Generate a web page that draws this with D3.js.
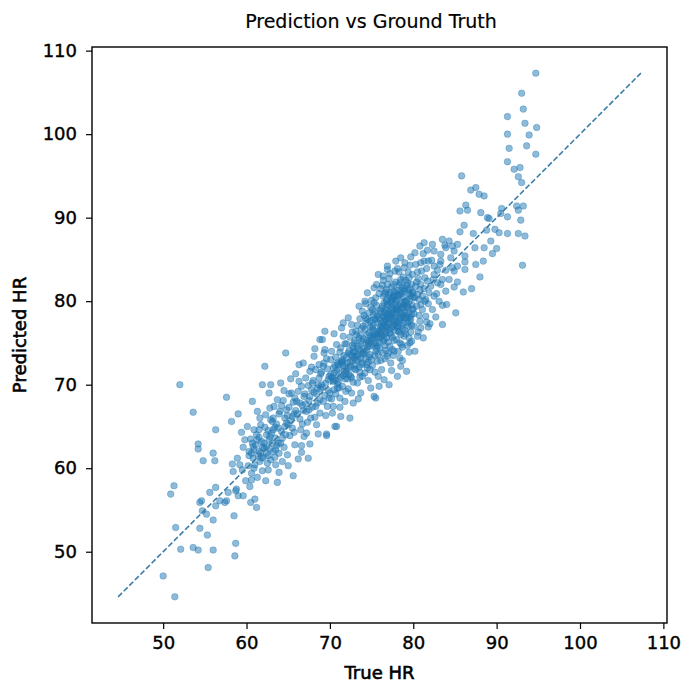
<!DOCTYPE html>
<html>
<head>
<meta charset="utf-8">
<script src="https://cdn.jsdelivr.net/npm/d3@7"></script>
<style>
  body { margin: 0; background: #fff; }
  text { font-family: "DejaVu Sans", sans-serif; fill: #000; }
</style>
</head>
<body>
<div id="chart"></div>
<script>
// points, [true HR, predicted HR]
var lowTail = [[54.2,62.9],[54.2,62.3],[56.0,61.8],[54.8,60.9],[56.2,60.9],[58.3,60.5],[51.3,57.9],[50.9,56.9],
  [56.3,57.7],[55.6,57.1],[54.6,56.1],[54.4,55.9],[56.8,56.1],[57.6,56.1],[57.8,57.1],[58.7,57.3],[59.0,56.7],
  [56.3,55.5],[57.4,55.9],[54.7,54.9],[55.2,54.5],[56.0,53.8],[58.5,54.3],[51.5,52.9],[54.4,52.8],[55.3,52.0],
  [52.1,50.3],[53.6,50.5],[54.2,50.2],[56.0,50.2],[58.7,51.0],[58.6,49.5],[55.4,48.1],[50.0,47.1],[51.4,44.6],
  [52.0,70.0],[53.6,66.7],[57.6,68.5],[56.3,64.6]];

var lowBody = [[58.2,65.6],[59.4,64.3],[58.9,61.2],[59.6,62.5],[58.8,57.5],[59.9,58.5],[59.6,56.7],[58.4,59.6],
  [59.2,60.4],[59.8,63.4],[59.0,66.5],[59.5,59.8],
  [60.7,68.0],[60.3,62.0],[60.5,63.5],[60.8,61.2],[60.2,60.3],[60.6,59.4],[60.9,64.6],[60.4,57.8],[60.1,65.0],
  [60.8,62.6],[60.6,58.6],[60.3,61.5],[60.9,60.0],[60.5,55.9],[60.7,63.0],[60.9,62.2],[60.6,61.8],
  [61.3,66.8],[61.9,70.0],[61.2,55.3],[61.0,56.3],[61.5,62.0],[61.8,63.2],[61.2,64.0],[61.6,60.8],[61.4,61.5],
  [61.9,59.7],[61.1,62.8],[61.7,65.2],[61.3,58.9],[61.8,61.2],[61.5,63.7],[61.0,60.4],[61.6,66.0],[61.9,62.5],
  [61.3,63.4],[61.7,61.8],[61.5,64.6],
  [62.2,72.2],[62.9,70.0],[62.7,69.0],[62.3,58.5],[62.1,63.0],[62.4,61.8],[62.6,64.5],[62.8,62.3],[62.5,60.6],
  [62.0,61.3],[62.9,65.8],[62.3,66.4],[62.7,63.4],[62.2,64.9],[62.6,59.8],[62.9,61.0],[62.4,62.6],[62.8,67.2],
  [62.1,62.4],[62.4,64.0],[62.8,63.8],[62.6,61.5],
  [63.7,58.3],[63.9,59.5],[63.2,62.0],[63.5,63.6],[63.8,64.8],[63.1,65.6],[63.4,61.3],[63.9,66.5],[63.6,62.7],
  [63.3,67.4],[63.8,63.0],[63.0,64.2],[63.5,60.4],[63.7,68.2],[63.2,66.0],[63.9,61.8],[63.4,64.9],[63.6,65.3],
  [63.1,63.0],[63.5,62.2],[63.2,64.6],
  [64.1,70.2],[64.7,73.8],[64.3,63.6],[64.6,65.0],[64.9,66.3],[64.2,64.4],[64.5,62.5],[64.8,67.0],[64.0,66.8],
  [64.4,68.1],[64.7,64.0],[64.9,61.6],[64.3,60.8],[64.6,66.0],[64.2,67.5],[64.8,65.4],[64.5,69.3],[64.1,63.0],
  [65.0,60.3],[65.6,59.1],[65.3,65.7],[65.7,66.5],[65.1,67.3],[65.5,64.8],[65.8,68.4],[65.2,63.9],[65.9,66.9],
  [65.4,69.0],[65.6,67.9],[65.0,65.2],[65.8,62.8],[65.3,70.7],[65.7,64.3],[65.1,68.9],[65.5,66.2],[65.9,71.3]];

var midBody = [[66.3,72.4],[66.6,62.7],[66.2,61.1],[66.6,61.9],[66.8,72.6],[66.1,66.5],[66.4,67.8],[66.7,65.3],
  [66.9,68.6],[66.2,69.2],[66.5,64.6],[66.8,66.9],[66.0,68.0],[66.3,70.4],[66.7,67.5],[66.9,63.8],[66.4,65.9],
  [66.6,69.8],
  [67.4,61.2],[67.6,62.9],[67.2,66.8],[67.5,68.1],[67.8,69.4],[67.1,70.8],[67.3,65.5],[67.9,67.3],[67.6,71.6],
  [67.0,68.9],[67.7,66.0],[67.4,69.9],[67.2,64.2],[67.9,70.2],[67.5,67.0],[67.8,72.1],[67.1,67.7],[67.6,68.6],
  [68.1,73.4],[68.6,64.1],[68.3,67.4],[68.8,68.2],[68.5,69.6],[68.0,70.5],[68.9,71.3],[68.2,66.1],[68.7,72.4],
  [68.4,68.9],[68.6,70.0],[68.1,69.1],[68.8,66.6],[68.3,71.8],[68.9,69.5],[68.5,67.8],[68.2,74.3],[68.7,70.8],
  [68.4,65.2],[68.8,75.4],
  [69.1,75.4],[69.4,76.4],[69.4,74.2],[69.6,63.9],[69.6,64.1],[69.2,68.0],[69.8,69.3],[69.5,70.2],[69.0,71.5],
  [69.3,72.6],[69.7,67.4],[69.9,71.0],[69.1,69.7],[69.6,73.1],[69.4,68.7],[69.8,70.6],[69.2,72.2],[69.5,66.3],
  [69.7,71.9],[69.0,70.0],[69.9,68.4],[69.3,73.8],
  [70.6,65.0],[70.8,65.0],[70.2,68.3],[70.5,69.4],[70.9,70.1],[70.1,71.2],[70.4,72.0],[70.7,73.3],[70.3,70.8],
  [70.8,71.7],[70.0,69.0],[70.6,70.5],[70.2,74.0],[70.9,72.6],[70.4,67.4],[70.7,68.9],[70.1,73.0],[70.5,71.4],
  [70.8,74.8],[70.3,66.6],[70.6,72.3],[70.9,69.6],[70.2,70.9],[70.5,76.1],[70.4,70.4],
  [71.6,75.8],[71.2,68.4],[71.5,69.8],[71.8,70.7],[71.1,71.9],[71.4,72.8],[71.7,73.5],[71.0,70.3],[71.9,72.0],
  [71.3,74.4],[71.6,71.1],[71.2,67.3],[71.8,74.9],[71.5,73.0],[71.0,72.4],[71.9,69.2],[71.3,70.9],[71.7,71.6],
  [71.4,76.8],[71.1,69.6],[71.8,68.0],[71.5,72.7],[71.2,73.9],[71.9,71.3],[71.6,77.4],[71.3,66.2],[71.0,71.1],
  [71.6,72.3],[71.3,72.6],
  [72.4,66.0],[72.2,69.5],[72.6,70.8],[72.9,71.9],[72.1,72.6],[72.5,73.6],[72.8,74.4],[72.3,71.2],[72.7,72.9],
  [72.0,74.9],[72.4,75.7],[72.9,73.2],[72.6,69.0],[72.2,73.8],[72.8,70.3],[72.5,72.2],[72.1,70.7],[72.7,76.3],
  [72.3,74.1],[72.9,75.0],[72.0,71.6],[72.6,77.2],[72.4,72.7],[72.8,67.8],[72.2,78.0],[72.5,71.0],[72.9,73.9],
  [72.7,74.7],[72.2,72.0],[72.7,73.4],[72.0,73.3],
  [73.7,69.0],[73.9,78.8],[73.3,70.2],[73.6,71.5],[73.9,72.6],[73.1,73.4],[73.4,74.3],[73.8,75.2],[73.2,76.0],
  [73.5,72.1],[73.0,73.9],[73.7,74.8],[73.3,77.1],[73.6,70.9],[73.9,73.7],[73.1,71.8],[73.5,75.6],[73.8,76.7],
  [73.2,72.9],[73.4,68.3],[73.7,73.2],[73.0,75.3],[73.6,77.9],[73.9,71.0],[73.3,74.6],[73.5,79.4],[73.8,72.4],
  [73.1,76.4],[73.4,73.0],[73.7,75.9],[73.3,73.6],[73.7,74.0],[73.0,72.3]];

var coreBody = [[74.3,78.0],[74.5,81.0],[74.9,69.6],[74.2,71.4],[74.6,72.7],[74.8,73.6],[74.1,74.4],[74.4,75.3],
  [74.7,76.2],[74.0,77.0],[74.9,75.8],[74.3,73.1],[74.6,74.9],[74.2,76.6],[74.8,77.6],[74.5,72.0],[74.1,73.9],
  [74.7,78.6],[74.4,74.1],[74.9,79.3],[74.0,75.5],[74.6,70.5],[74.3,77.3],[74.8,74.6],[74.5,76.0],[74.2,80.0],
  [74.7,73.3],[74.9,76.9],[74.1,78.3],[74.4,72.4],[74.6,75.1],[74.8,71.8],[74.3,79.7],[74.0,73.7],[74.5,77.8],
  [74.8,75.2],[74.5,74.5],
  [75.3,81.6],[75.8,83.2],[75.5,68.4],[75.9,69.8],[75.3,68.6],[75.1,72.3],[75.4,73.5],[75.7,74.6],[75.0,75.4],
  [75.6,76.3],[75.2,77.1],[75.9,78.0],[75.5,74.0],[75.8,75.7],[75.1,76.8],[75.4,78.7],[75.7,77.4],[75.0,73.0],
  [75.3,74.9],[75.6,79.5],[75.9,76.5],[75.2,75.6],[75.5,80.4],[75.8,73.6],[75.1,79.0],[75.4,71.5],[75.7,78.2],
  [75.0,77.7],[75.6,74.3],[75.3,76.0],[75.9,80.9],[75.2,78.4],[75.5,75.0],[75.8,71.0],[75.1,74.7],[75.4,77.9],
  [75.7,72.8],[75.0,80.1],[75.6,82.0],[75.3,79.8],[75.2,76.5],[75.6,77.8],[75.9,75.1],[75.4,75.8],[75.7,76.0],
  [76.9,84.2],[76.4,82.5],[76.9,83.8],[76.5,70.6],[76.1,72.9],[76.3,73.8],[76.6,74.7],[76.8,75.6],[76.0,76.4],
  [76.2,77.3],[76.5,78.1],[76.7,79.0],[76.9,76.9],[76.1,78.6],[76.4,75.2],[76.6,77.7],[76.8,80.2],[76.0,74.4],
  [76.3,79.4],[76.5,76.0],[76.7,81.1],[76.9,78.4],[76.2,75.9],[76.4,80.6],[76.6,73.1],[76.8,77.0],[76.1,81.5],
  [76.3,76.7],[76.5,79.8],[76.7,74.1],[76.9,82.0],[76.0,78.9],[76.2,71.8],[76.4,77.5],[76.6,80.9],[76.8,78.8],
  [76.1,76.1],[76.3,81.9],[76.5,75.4],[76.7,77.9],[76.9,73.4],[76.2,79.1],[76.4,83.0],[76.6,76.4],[76.8,80.0],
  [76.1,77.0],[76.3,78.2],[76.5,77.2],[76.7,76.2],[76.9,79.6],[76.6,78.6],[76.2,76.8],[76.0,75.6],[76.8,81.4],
  [77.9,84.8],[77.1,70.0],[77.4,71.7],[77.6,73.5],[77.2,74.6],[77.5,75.7],[77.8,76.5],[77.0,77.2],[77.3,78.2],
  [77.6,79.1],[77.9,80.0],[77.1,80.8],[77.4,81.7],[77.7,77.6],[77.2,76.2],[77.5,78.9],[77.8,79.7],[77.0,75.1],
  [77.3,80.4],[77.6,77.0],[77.9,82.3],[77.1,78.6],[77.4,76.8],[77.7,81.2],[77.2,83.3],[77.5,74.2],[77.8,78.1],
  [77.0,79.5],[77.3,72.6],[77.6,80.6],[77.9,77.3],[77.1,82.7],[77.4,79.3],[77.7,75.3],[77.2,81.0],[77.5,77.7],
  [77.8,83.6],[77.0,73.8],[77.3,76.0],[77.6,82.0],[77.9,79.0],[77.4,78.4],[77.7,74.0],[77.1,76.6],[77.5,80.1],
  [77.0,78.0],[77.2,77.8],[77.4,80.2],[77.6,78.5],[77.8,77.2],[77.3,79.8],[77.7,80.5],[77.1,77.4],[77.9,81.0],
  [78.5,85.2],[78.5,72.2],[78.1,71.0],[78.4,73.2],[78.7,74.5],[78.0,75.4],[78.3,76.3],[78.6,77.1],[78.9,78.0],
  [78.2,78.9],[78.5,79.7],[78.8,80.5],[78.1,81.3],[78.4,82.2],[78.7,76.7],[78.0,77.6],[78.3,79.4],[78.6,80.9],
  [78.9,75.8],[78.2,74.0],[78.5,77.9],[78.8,82.9],[78.1,79.0],[78.4,75.0],[78.7,81.7],[78.0,80.2],[78.3,83.5],
  [78.6,78.5],[78.9,81.2],[78.2,77.0],[78.5,76.0],[78.8,79.2],[78.1,83.9],[78.4,80.8],[78.7,72.9],[78.0,78.4],
  [78.3,81.9],[78.6,74.8],[78.9,84.0],[78.2,80.6],[78.5,82.6],[78.8,77.4],[78.1,76.9],[78.4,78.6],[78.7,79.9],
  [78.0,79.3],[78.2,76.4],[78.4,77.7],[78.6,79.2],[78.8,78.2],[78.1,80.7],[78.9,79.5],[78.3,78.0],[78.6,81.3],
  [79.2,71.6],[79.5,73.9],[79.8,75.2],[79.1,76.1],[79.4,77.0],[79.7,77.8],[79.0,78.7],[79.3,79.5],[79.6,80.3],
  [79.9,81.1],[79.2,81.9],[79.5,82.8],[79.8,78.4],[79.1,79.9],[79.4,83.5],[79.7,80.7],[79.0,76.5],[79.3,77.4],
  [79.6,84.3],[79.9,79.0],[79.2,80.1],[79.5,75.6],[79.8,82.0],[79.1,82.5],[79.4,79.2],[79.7,76.3],[79.0,81.5],
  [79.3,74.7],[79.6,78.1],[79.9,83.2],[79.2,78.0],[79.5,80.9],[79.8,77.1],[79.0,84.6],[79.3,82.2],[79.6,75.0],
  [79.9,80.5],[79.4,81.3],[79.1,78.3],[79.7,85.3],[79.0,80.0],[79.2,79.2],[79.4,78.5],[79.6,81.5],[79.8,79.6],
  [79.5,77.6]];

var highBody = [[80.9,84.6],[80.9,76.8],[80.2,74.0],[80.5,75.8],[80.8,77.6],[80.1,78.5],[80.4,79.4],[80.7,80.2],
  [80.0,81.0],[80.3,81.8],[80.6,82.7],[80.9,79.6],[80.2,80.4],[80.5,83.5],[80.8,81.4],[80.1,77.0],[80.4,82.3],
  [80.7,78.3],[80.0,79.1],[80.3,84.4],[80.6,76.3],[80.9,82.0],[80.2,85.8],[80.5,80.8],[80.8,86.6],
  [81.3,87.0],[81.3,84.8],[81.8,84.8],[81.5,78.2],[81.4,82.8],[81.2,75.6],[81.6,77.5],[81.8,79.7],[81.1,80.6],
  [81.3,81.5],[81.7,82.4],[81.0,83.6],[81.5,80.2],[81.9,81.0],[81.2,85.7],[81.6,83.9],[81.8,76.9],[81.1,79.0],
  [81.4,80.0],[81.7,86.1],
  [82.5,84.2],[82.5,83.2],[82.5,80.6],[82.3,79.0],[82.8,80.9],[82.1,81.8],[82.4,82.6],[82.9,83.7],[82.2,84.9],
  [82.7,78.1],[82.5,86.0],[82.0,77.3],[82.9,82.2],[82.3,86.8],
  [83.3,85.6],[83.3,84.8],[83.9,81.2],[83.5,82.6],[83.5,79.5],[83.5,77.2],[83.2,84.4],[83.8,86.7],[83.1,80.0],
  [83.5,87.4],[83.9,83.7],[83.3,82.0],
  [83.9,86.4],[84.3,87.2],[84.7,86.6],[85.3,86.8],[84.9,86.0],[84.3,82.6],[84.9,83.6],[85.3,84.2],[84.9,81.7],
  [84.0,79.6],[85.1,78.6],[84.5,85.2],[85.6,88.3],[84.7,84.0],[85.3,82.3]];

var highTail = [[94.7,107.3],[93.0,104.9],[93.2,103.0],[91.3,102.1],[93.4,101.3],[94.8,100.8],[91.3,100.0],
  [93.9,99.9],[91.5,98.3],[93.6,98.6],[94.7,97.6],[91.3,96.7],[92.1,95.8],[92.8,96.0],[92.6,94.9],[93.0,94.2],
  [85.8,95.0],[86.9,93.3],[87.5,93.6],[87.9,92.8],[88.5,92.6],[86.3,91.5],[85.6,90.8],[86.5,90.9],[90.6,91.1],
  [92.4,91.4],[93.2,91.4],[92.6,90.9],[90.5,90.5],[91.3,90.1],[88.1,90.6],[88.9,90.0],[89.1,89.9],[86.1,89.1],
  [92.9,89.7],[89.8,88.6],[88.8,88.5],[90.3,88.2],[87.2,88.1],[91.3,88.1],[92.6,88.1],[93.4,87.8],[89.3,87.2],
  [88.5,86.4],[90.0,86.3],[87.4,86.4],[89.5,85.7],[93.1,84.3],[88.4,84.8],[87.5,84.4],[86.2,85.4],[86.2,84.7],
  [88.0,82.9],[87.0,81.5],[86.0,81.1],[86.2,83.8]];

var tickValues = [50, 60, 70, 80, 90, 100, 110];

var points = lowTail.concat(lowBody, midBody, coreBody, highBody, highTail);

// frame of the plot
var margin = {top: 47, right: 15, bottom: 60, left: 92};
var width = 682 - margin.left - margin.right;
var height = 683 - margin.top - margin.bottom;

var svg = d3.select("#chart").append("svg")
    .attr("width", 682)
    .attr("height", 683);

var g = svg.append("g")
    .attr("transform", "translate(" + margin.left + "," + margin.top + ")");

// identity line spans the data, axes get 5% padding like matplotlib
var all = points.map(function(d) { return d[0]; }).concat(points.map(function(d) { return d[1]; }));
var lo = d3.min(all), hi = d3.max(all);
var pad = (hi - lo) * 0.05;

var x = d3.scaleLinear().domain([lo - pad, hi + pad]).range([0, width]);
var y = d3.scaleLinear().domain([lo - pad, hi + pad]).range([height, 0]);

g.selectAll("circle")
    .data(points)
    .enter().append("circle")
    .attr("cx", function(d) { return x(d[0]); })
    .attr("cy", function(d) { return y(d[1]); })
    .attr("r", 3.3)
    .attr("fill", "#1f77b4")
    .attr("fill-opacity", 0.5)
    .attr("stroke", "#1f77b4")
    .attr("stroke-opacity", 0.35)
    .attr("stroke-width", 1);

g.append("line")
    .attr("x1", x(lo)).attr("y1", y(lo))
    .attr("x2", x(hi)).attr("y2", y(hi))
    .attr("stroke", "#3b7ea8")
    .attr("stroke-width", 1.6)
    .attr("stroke-dasharray", "5.5,2.4");

var xAxis = g.append("g")
    .attr("transform", "translate(0," + height + ")")
    .call(d3.axisBottom(x).tickValues(tickValues).tickSize(6).tickPadding(7));
var yAxis = g.append("g")
    .call(d3.axisLeft(y).tickValues(tickValues).tickSize(6).tickPadding(9));

[xAxis, yAxis].forEach(function(a) {
    a.select(".domain").remove();
    a.selectAll("line").attr("stroke", "#000").attr("stroke-width", 1.2);
    a.selectAll("text").attr("font-size", 18).attr("font-family", "DejaVu Sans")
        .attr("fill", "#000").attr("stroke", "#000").attr("stroke-width", 0.4);
});

// box around the plot
g.append("rect")
    .attr("width", width).attr("height", height)
    .attr("fill", "none")
    .attr("stroke", "#000")
    .attr("stroke-width", 1.4);

svg.append("text")
    .attr("x", 371)
    .attr("y", 28)
    .attr("text-anchor", "middle")
    .attr("font-size", 19)
    .attr("stroke", "#000").attr("stroke-width", 0.2)
    .text("Prediction vs Ground Truth");

svg.append("text")
    .attr("x", margin.left + width / 2)
    .attr("y", 679)
    .attr("text-anchor", "middle")
    .attr("font-size", 18)
    .attr("stroke", "#000").attr("stroke-width", 0.6)
    .text("True HR");

svg.append("text")
    .attr("transform", "translate(26," + (margin.top + height / 2) + ") rotate(-90)")
    .attr("text-anchor", "middle")
    .attr("font-size", 18)
    .attr("stroke", "#000").attr("stroke-width", 0.6)
    .text("Predicted HR");
</script>
</body>
</html>
